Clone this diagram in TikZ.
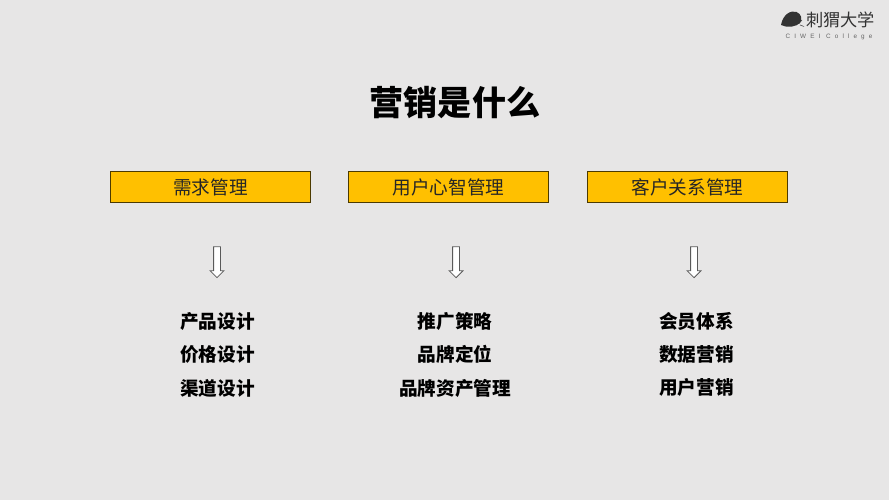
\documentclass[tikz,border=0pt]{standalone}
\usepackage{fontspec}
\usepackage{xcolor}
\newfontfamily\cjk{Noto Sans CJK SC}
\newfontfamily\logofont[LetterSpace=65]{Liberation Sans}
\setmainfont{Liberation Sans}
\usetikzlibrary{positioning,shapes.arrows}
\definecolor{pagegray}{HTML}{E7E6E6}
\definecolor{headgold}{HTML}{FFC000}
\definecolor{logogray}{HTML}{333333}
\tikzset{
  head/.style={draw=black!70!headgold, fill=headgold, line width=0.5pt, minimum width=4cm, minimum height=0.63cm, inner sep=0pt, font=\cjk\fontsize{10.6}{12}\selectfont, text=black!85},
  item/.style={inner sep=0pt, font=\cjk\bfseries\fontsize{10.6}{12}\selectfont, text=black},
  downarrow/.style={single arrow, draw=black!65, fill=white, line width=0.45pt, rotate=-90, minimum height=0.62cm, inner xsep=0pt, inner ysep=0.06cm, single arrow head extend=0.07cm, single arrow tip angle=90}
}
\begin{document}
\begin{tikzpicture}
\fill[pagegray] (0,0) rectangle (17.78,10);
\useasboundingbox (0,0) rectangle (17.78,10);

\node[inner sep=0pt, font=\cjk\bfseries\fontsize{19.4}{22}\selectfont] (title) at (9.1,7.94) {营销是什么};

\node[head] (demand) at (4.21,6.26) {需求管理};
\node[head] (mind) at (8.97,6.26) {用户心智管理};
\node[head] (customer) at (13.75,6.26) {客户关系管理};

\node[downarrow] (arrow_1) at (4.34,4.79) {};
\node[downarrow] (arrow_2) at (9.12,4.79) {};
\node[downarrow] (arrow_3) at (13.88,4.79) {};

\node[item] (a1) at (4.35,3.57) {产品设计};
\node[item] (a2) at (4.35,2.91) {价格设计};
\node[item] (a3) at (4.35,2.24) {渠道设计};

\node[item] (b1) at (9.1,3.57) {推广策略};
\node[item] (b2) at (9.1,2.91) {品牌定位};
\node[item] (b3) at (9.1,2.24) {品牌资产管理};

\node[item] (c1) at (13.93,3.58) {会员体系};
\node[item] (c2) at (13.93,2.92) {数据营销};
\node[item] (c3) at (13.93,2.25) {用户营销};

% logo
\fill[logogray] (15.62,9.5) .. controls (15.66,9.72) and (15.82,9.8) .. (15.93,9.76)
  .. controls (16.03,9.72) and (16.05,9.62) .. (16.0,9.54)
  .. controls (15.93,9.47) and (15.75,9.43) .. (15.62,9.5) -- cycle;
\draw[logogray, line width=0.3pt] (15.98,9.53) -- (16.04,9.6) (16.0,9.5) -- (16.08,9.47);
\node[inner sep=0pt, text=logogray, font=\cjk\fontsize{9.8}{11}\selectfont] (logo) at (16.81,9.6) {刺猬大学};
\node[inner sep=0pt, text=black!60, font=\logofont\fontsize{3.6}{4.5}\selectfont] (college) at (16.58,9.27) {CIWEI College};
\end{tikzpicture}
\end{document}
